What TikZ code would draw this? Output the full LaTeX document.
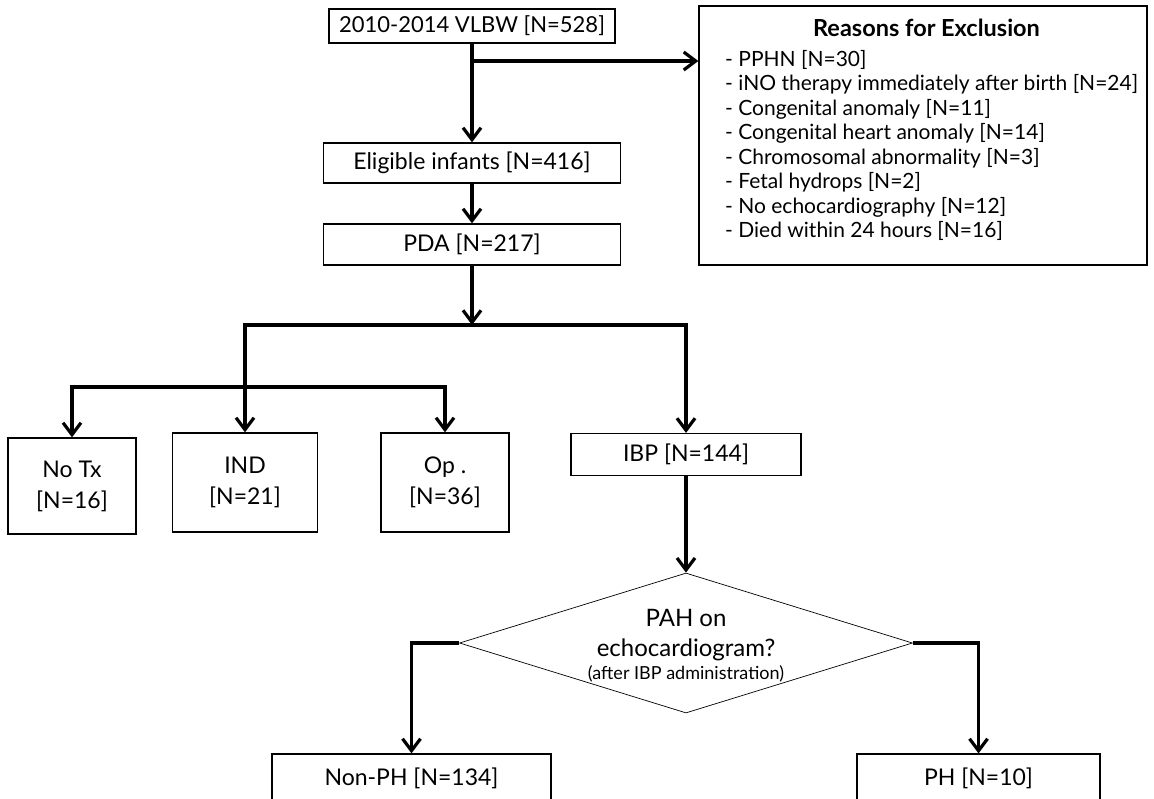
\documentclass[tikz,border=0pt]{standalone}
\usepackage{fontspec}
\setmainfont{Lato}
\usetikzlibrary{arrows.meta,shapes.geometric}

\begin{document}
\begin{tikzpicture}[x=1pt, y=-1pt,
        box/.style={draw, line width=1.2pt, inner sep=0pt, align=center,
                    font=\fontsize{23}{31}\selectfont},
        flow/.style={line width=3.2pt, -{Straight Barb[length=12pt, width=18pt]}},
        reason/.style={anchor=base west, inner sep=0pt, font=\fontsize{21}{24}\selectfont},
        caption/.style={anchor=base, inner sep=0pt, font=\fontsize{24}{28}\selectfont}]

        \useasboundingbox (0,0) rectangle (1154,798);
        \fill[white] (0,0) rectangle (1154,798);

        % main column
        \node[box, minimum width=286pt, minimum height=34pt, font=\fontsize{22}{26}\selectfont] (vlbw) at (472,26) {2010-2014 VLBW [N=528]};
        \node[box, minimum width=297pt, minimum height=40pt] (elig) at (472,163) {Eligible infants [N=416]};
        \node[box, minimum width=297pt, minimum height=41pt] (pda) at (472,244.5) {PDA [N=217]};

        % exclusion box
        \node[draw, line width=1.2pt, minimum width=448pt, minimum height=259pt] (excl) at (923,135.5) {};
        \node[caption, font=\bfseries\fontsize{23.5}{28}\selectfont] (exclhead) at (926.5,36) {Reasons for Exclusion};
        \foreach \txt [count=\i] in {{- PPHN [N=30]},
                {- iNO therapy immediately after birth [N=24]},
                {- Congenital anomaly [N=11]},
                {- Congenital heart anomaly [N=14]},
                {- Chromosomal abnormality [N=3]},
                {- Fetal hydrops [N=2]},
                {- No echocardiography [N=12]},
                {- Died within 24 hours [N=16]}}
            \node[reason] (reason\i) at (725,{41.43+24.57*\i}) {\txt};

        % treatment groups
        \node[box, minimum width=128pt, minimum height=96pt] (notx) at (72,486) {No Tx\\{[N=16]}};
        \node[box, minimum width=145pt, minimum height=99pt] (ind) at (245,482.5) {IND\\{[N=21]}};
        \node[box, minimum width=128pt, minimum height=99pt] (op) at (445,482.5) {Op .\\{[N=36]}};
        \node[box, minimum width=230pt, minimum height=42pt] (ibp) at (686,454.5) {IBP [N=144]};

        % decision
        \node[draw, diamond, line width=0.7pt, inner sep=0pt, minimum width=453pt, minimum height=140pt] (pah) at (686,643) {};
        \node[caption] (pahline) at (686,626) {PAH on};
        \node[caption] (echoline) at (686,656) {echocardiogram?};
        \node[caption, font=\fontsize{18}{20}\selectfont] (ibpline) at (686,679) {(after IBP administration)};

        \node[box, minimum width=279pt, minimum height=48pt] (nonph) at (411.5,778) {Non-PH [N=134]};
        \node[box, minimum width=243pt, minimum height=48pt] (ph) at (978.5,778) {PH [N=10]};

        % draw arrows
        \coordinate (split) at (472,61);
        \coordinate (hub) at (472,325);
        \coordinate (hubb) at (245,387);
        \draw[flow] (vlbw) -- (elig);
        \draw[flow] (split) -- (split -| excl.west);
        \draw[flow] (elig) -- (pda);
        \draw[flow] (pda) -- (hub);
        \draw[flow] (hub) -| (ind.north);
        \draw[flow] (hub) -| (ibp.north);
        \draw[flow] (hubb) -| (notx.north);
        \draw[flow] (hubb) -| (op.north);
        \draw[flow] (ibp) -- (pah);
        \draw[flow] (pah.west) -| (nonph.north);
        \draw[flow] (pah.east) -| (ph.north);
    \end{tikzpicture}
\end{document}
